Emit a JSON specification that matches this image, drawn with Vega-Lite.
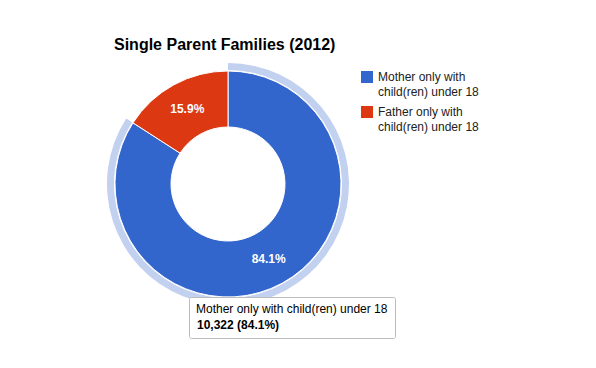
{
  "$schema": "https://vega.github.io/schema/vega-lite/v6.json",
  "width": 228,
  "height": 226,
  "autosize": {"type": "none"},
  "padding": {"left": 114, "top": 71, "right": 254, "bottom": 71},
  "background": "white",
  "config": {"view": {"stroke": null}, "font": "Liberation Sans"},
  "title": {"text": "Single Parent Families (2012)", "anchor": "start", "frame": "group", "fontSize": 16, "fontWeight": "bold", "color": "#000000", "offset": 10, "font": "Liberation Sans"},
  "data": {"values": [
    {"group": "Mother only with child(ren) under 18", "families": 10322, "share": 0.841},
    {"group": "Father only with child(ren) under 18", "families": 1951, "share": 0.159}
  ]},
  "layer": [
    {
      "mark": {"type": "arc", "outerRadius": 121, "innerRadius": 114, "color": "#c3d1f0"},
      "encoding": {
        "theta": {"field": "families", "type": "quantitative", "stack": true},
        "order": {"field": "families", "sort": "descending"},
        "opacity": {"condition": {"test": "datum.group === 'Mother only with child(ren) under 18'", "value": 1}, "value": 0}
      }
    },
    {
      "mark": {"type": "arc", "outerRadius": 113, "innerRadius": 57, "stroke": "white", "strokeWidth": 1},
      "encoding": {
        "theta": {"field": "families", "type": "quantitative", "stack": true},
        "order": {"field": "families", "sort": "descending"},
        "color": {
          "field": "group", "type": "nominal",
          "scale": {"domain": ["Mother only with child(ren) under 18", "Father only with child(ren) under 18"], "range": ["#3366cc", "#dc3912"]},
          "legend": {
            "orient": "none", "legendX": 247, "legendY": 0, "title": null,
            "symbolType": "square", "symbolSize": 144, "symbolStrokeWidth": 0,
            "labelFontSize": 12, "labelColor": "#222222", "labelOffset": 5, "labelLimit": 200,
            "labelExpr": "[slice(datum.label, 0, 16), slice(datum.label, 17)]",
            "labelBaseline": "alphabetic", "rowPadding": 8,
            "encoding": {"labels": {"dy": {"value": 4}, "lineHeight": {"value": 15}}}
          }
        }
      }
    },
    {
      "mark": {"type": "text", "radius": 85, "fill": "white", "fontWeight": "bold", "fontSize": 12},
      "encoding": {
        "theta": {"field": "families", "type": "quantitative", "stack": true},
        "order": {"field": "families", "sort": "descending"},
        "text": {"field": "share", "type": "quantitative", "format": ".1%"}
      }
    },
    {
      "transform": [{"filter": "datum.group === 'Mother only with child(ren) under 18'"}],
      "mark": {"type": "point", "opacity": 0},
      "encoding": {
        "shape": {
          "field": "families", "type": "nominal",
          "legend": {
            "orient": "none", "legendX": 75, "legendY": 226,
            "title": "Mother only with child(ren) under 18",
            "titleFontSize": 12, "titleFontWeight": "normal", "titleColor": "#000000", "titleLimit": 400, "titlePadding": 3,
            "labelFontSize": 12, "labelFontWeight": "bold", "labelColor": "#000000",
            "labelExpr": "format(datum.value, ',') + ' (84.1%)'",
            "symbolSize": 0, "symbolOpacity": 0, "symbolStrokeWidth": 0, "labelOffset": 0,
            "padding": 7, "strokeColor": "#bbbbbb", "fillColor": "white", "cornerRadius": 2,
            "encoding": {"labels": {"dx": {"value": -11}}}
          }
        }
      }
    }
  ]
}
